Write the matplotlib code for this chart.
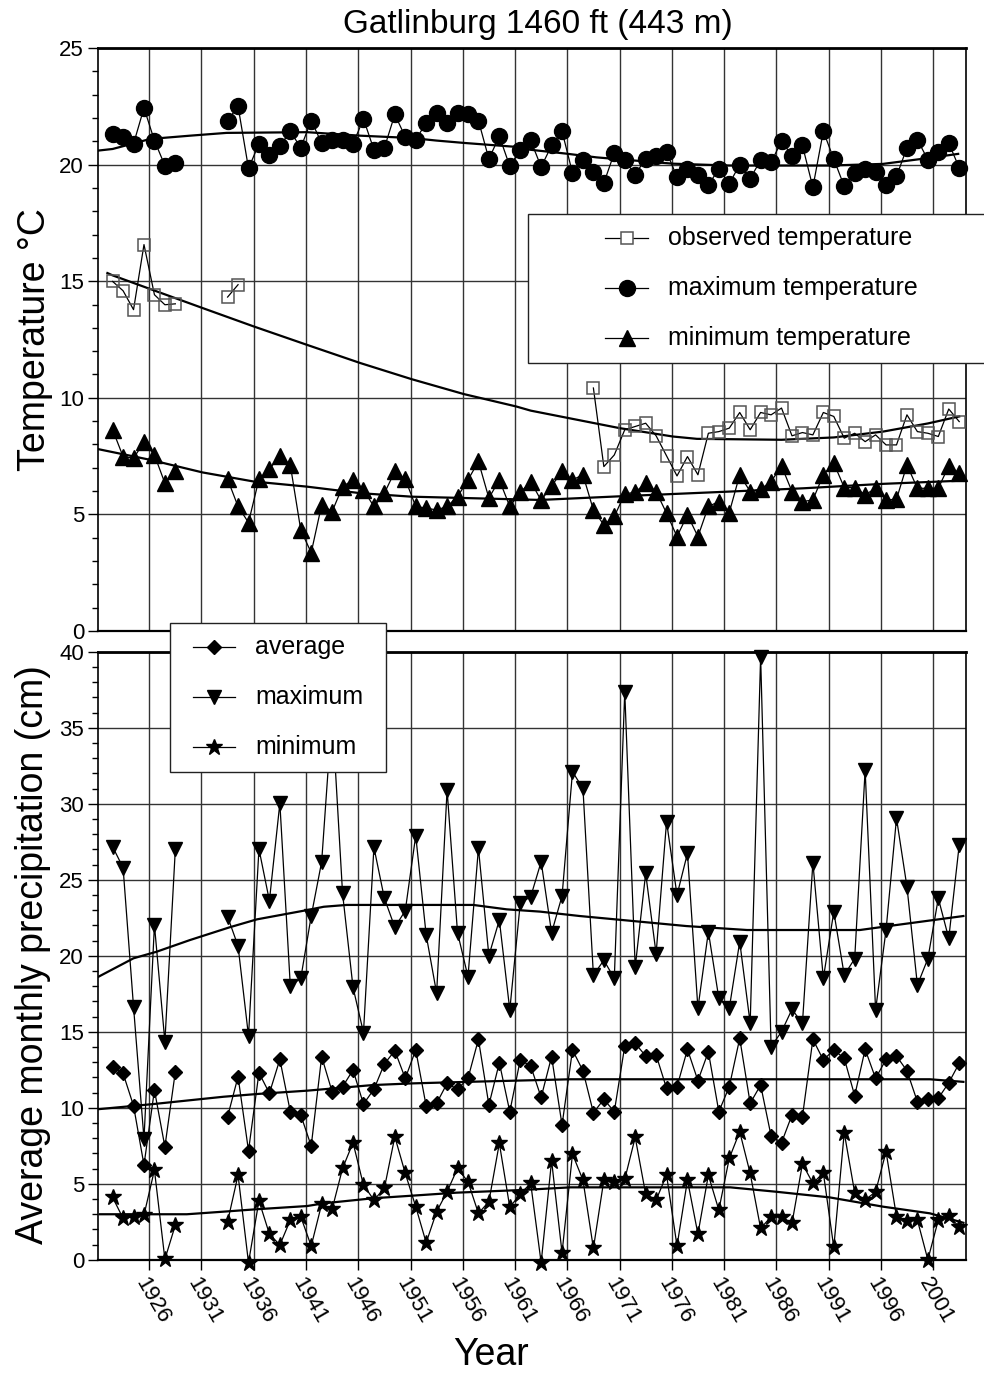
import numpy as np
import matplotlib.pyplot as plt
from matplotlib.lines import Line2D
from matplotlib.patches import Rectangle
from matplotlib.ticker import MultipleLocator

plt.rcParams['font.family'] = ['Liberation Sans', 'DejaVu Sans']

nan = np.nan
years = np.arange(1922, 2004)
gap = [nan] * 4  # 1929-1932 sin datos

# Temperatura (°C)
t_max = [21.33, 21.19, 20.89, 22.43, 21.03, 19.96, 20.09] + gap + [
    21.89, 22.5, 19.84, 20.89, 20.43, 20.79, 21.43, 20.72, 21.89, 20.92,
    21.07, 21.07, 20.89, 21.96, 20.64, 20.72, 22.15, 21.19, 21.07, 21.79,
    22.22, 21.79, 22.22, 22.15, 21.89, 20.24, 21.22, 19.93, 20.64, 21.04,
    19.9, 20.82, 21.43, 19.64, 20.19, 19.67, 19.21, 20.5, 20.19, 19.57,
    20.26, 20.36, 20.54, 19.47, 19.79, 19.57, 19.11, 19.83, 19.18, 20.0,
    19.4, 20.19, 20.1, 21.0, 20.39, 20.82, 19.03, 21.43, 20.24, 19.07,
    19.64, 19.81, 19.67, 19.14, 19.5, 20.72, 21.07, 20.21, 20.54, 20.93,
    19.86]
t_obs = [14.99, 14.59, 13.78, 16.57, 14.42, 13.99, 14.03] + gap + [14.32, 14.85] + [nan] * 33 + [
    10.42, 7.05, 7.55, 8.63, 8.77, 8.91, 8.37, 7.51, 6.65, 7.48,
    6.7, 8.48, 8.55, 8.7, 9.37, 8.63, 9.37, 9.27, 9.56, 8.37,
    8.51, 8.41, 9.37, 9.2, 8.27, 8.48, 8.12, 8.41, 7.98, 7.98,
    9.27, 8.55, 8.48, 8.34, 9.52, 8.98]
t_min = [8.63, 7.48, 7.41, 8.1, 7.55, 6.34, 6.84] + gap + [
    6.51, 5.34, 4.65, 6.51, 6.94, 7.51, 7.12, 4.33, 3.36, 5.41,
    5.12, 6.19, 6.48, 6.05, 5.34, 5.91, 6.84, 6.51, 5.34, 5.27,
    5.19, 5.34, 5.76, 6.48, 7.27, 5.7, 6.48, 5.34, 5.94, 6.41,
    5.6, 6.22, 6.84, 6.48, 6.7, 5.19, 4.55, 4.91, 5.88, 5.95,
    6.34, 5.98, 5.05, 4.05, 4.98, 4.05, 5.34, 5.55, 5.08, 6.7,
    5.98, 6.08, 6.41, 7.08, 5.98, 5.55, 5.62, 6.7, 7.2, 6.15,
    6.15, 5.84, 6.12, 5.62, 5.65, 7.12, 6.12, 6.12, 6.12, 7.08,
    6.77]

# Precipitacion mensual (cm)
p_avg = [12.7, 12.26, 10.13, 6.23, 11.16, 7.43, 12.37] + gap + [
    9.41, 12.04, 7.17, 12.3, 10.95, 13.18, 9.74, 9.52, 7.48, 13.36,
    11.05, 11.38, 12.48, 10.24, 11.21, 12.88, 13.75, 11.93, 13.8, 10.11,
    10.29, 11.6, 11.21, 11.93, 14.5, 10.18, 12.96, 9.74, 13.14, 12.74,
    10.68, 13.36, 8.86, 13.8, 12.43, 9.67, 10.55, 9.74, 14.06, 14.24,
    13.4, 13.47, 11.27, 11.38, 13.84, 11.78, 13.68, 9.74, 11.38, 14.56,
    10.29, 11.49, 8.14, 7.7, 9.52, 9.41, 14.5, 13.14, 13.8, 13.25,
    10.79, 13.84, 11.93, 13.18, 13.4, 12.43, 10.39, 10.55, 10.62, 11.64,
    12.92]
p_max = [27.17, 25.79, 16.64, 7.94, 22.02, 14.34, 27.02] + gap + [
    22.57, 20.64, 14.72, 27.02, 23.62, 30.03, 18.01, 18.51, 22.61, 26.18,
    36.0, 24.1, 17.92, 14.94, 27.13, 23.78, 21.87, 22.96, 27.9, 21.36,
    17.53, 30.9, 21.51, 18.62, 27.07, 20.0, 22.35, 16.43, 23.45, 23.88,
    26.18, 21.51, 23.93, 32.1, 31.01, 18.73, 19.7, 18.51, 37.37, 19.24,
    25.42, 20.13, 28.82, 23.99, 26.74, 16.54, 21.58, 17.2, 16.54, 20.92,
    15.55, 39.67, 14.01, 15.0, 16.47, 15.55, 26.12, 18.51, 22.89, 18.73,
    19.8, 32.22, 16.43, 21.69, 29.04, 24.54, 18.07, 19.8, 23.78, 21.14,
    27.28]
p_min = [4.1, 2.72, 2.83, 2.94, 5.9, 0.03, 2.28] + gap + [
    2.5, 5.57, -0.2, 3.88, 1.69, 0.97, 2.61, 2.83, 0.9, 3.66,
    3.32, 6.01, 7.7, 4.91, 3.93, 4.7, 8.09, 5.68, 3.49, 1.12,
    3.16, 4.47, 6.01, 5.13, 3.05, 3.82, 7.66, 3.45, 4.32, 5.03,
    -0.2, 6.51, 0.46, 6.95, 5.24, 0.75, 5.24, 5.13, 5.29, 8.05,
    4.32, 3.93, 5.57, 0.9, 5.24, 1.69, 5.57, 3.27, 6.67, 8.42,
    5.68, 2.06, 2.83, 2.83, 2.39, 6.3, 5.03, 5.72, 0.81, 8.36,
    4.41, 3.93, 4.47, 7.11, 2.83, 2.57, 2.61, 0.0, 2.61, 2.87,
    2.17]

# Curvas de tendencia (año, valor)
tr_tmax_x = [1920.6, 1922, 1925.6, 1929.4, 1932.9, 1940.6, 1945.7, 1950.6, 1953, 1955.6,
             1960.6, 1961.9, 1965.4, 1968.3, 1971.5, 1975.6, 1981, 1990.6, 1995.7, 2000.2, 2002.9]
tr_tmax_y = [20.6, 20.67, 21.1, 21.24, 21.36, 21.39, 21.24, 21.14, 21.03, 20.93,
             20.76, 20.64, 20.47, 20.31, 20.19, 20.04, 19.96, 19.96, 20.03, 20.29, 20.46]
tr_tobs_x = [1921.5, 1922, 1930.6, 1935.5, 1940.6, 1945.7, 1950.6, 1955.6, 1960.6, 1962,
             1970.5, 1975.6, 1977.9, 1986, 1991, 1995.7, 2000, 2003]
tr_tobs_y = [15.35, 15.25, 13.85, 13.06, 12.27, 11.49, 10.8, 10.16, 9.63, 9.45,
             8.7, 8.34, 8.24, 8.2, 8.3, 8.55, 8.9, 9.2]
tr_tmin_x = [1920.6, 1925.6, 1930.6, 1935.5, 1940.6, 1945.7, 1950.6, 1962.9, 1971.2, 1981.1,
             1988.1, 1995.7, 2003.4]
tr_tmin_y = [7.8, 7.34, 6.8, 6.41, 6.19, 5.91, 5.76, 5.62, 5.79, 5.98, 6.12, 6.31, 6.45]

tr_pavg_x = [1920.6, 1925.9, 1932.6, 1935.8, 1940.6, 1946.9, 1950.7, 1956.5, 1962.9, 1965.8,
             2000.2, 2003.4]
tr_pavg_y = [9.9, 10.24, 10.72, 10.9, 11.12, 11.49, 11.6, 11.71, 11.82, 11.87, 11.87, 11.7]
tr_pmax_x = [1920.6, 1924, 1926.2, 1929.4, 1933.2, 1935.8, 1940.6, 1942.2, 1944.4, 1956.5,
             1959.7, 1962.9, 1966.7, 1971.5, 1976.9, 1982.7, 1993.5, 1997, 2003.4]
tr_pmax_y = [18.6, 19.83, 20.26, 21.03, 21.87, 22.39, 23.0, 23.22, 23.34, 23.34,
             23.05, 22.9, 22.61, 22.3, 21.95, 21.69, 21.69, 22.02, 22.61]
tr_pmin_x = [1920.8, 1929.1, 1932.6, 1935.8, 1940.6, 1942.2, 1946.9, 1951.7, 1954.9, 1961.3,
             1965.8, 1981.1, 1985.5, 1990.6, 1995.7, 2000.2, 2003.4]
tr_pmin_y = [2.99, 2.99, 3.16, 3.32, 3.53, 3.71, 4.04, 4.26, 4.41, 4.59,
             4.76, 4.76, 4.47, 4.1, 3.49, 3.05, 2.43]

tick_years = np.arange(1925.5, 2001, 5)
tick_labels = [str(int(t + 0.5)) for t in tick_years]

# ---------------------------------------------------------------
W, H = 984, 1374
fig = plt.figure(figsize=(W / 100, H / 100), dpi=100)


def fx(px):
    return px / W


def fy(py):
    return 1 - py / H


ax1 = fig.add_axes([fx(98), fy(631), (966 - 98) / W, (631 - 48) / H])
ax2 = fig.add_axes([fx(98), fy(1259.7), (966 - 98) / W, (1259.7 - 651.7) / H])

line_kw = dict(color='black', lw=0.9, clip_on=False, zorder=3)
trend_kw = dict(color='black', lw=1.6, zorder=2)

# panel superior
ax1.plot(tr_tmax_x, tr_tmax_y, **trend_kw)
ax1.plot(tr_tobs_x, tr_tobs_y, **trend_kw)
ax1.plot(tr_tmin_x, tr_tmin_y, **trend_kw)
ax1.plot(years, t_obs, marker='s', ms=9, mfc='none', mec='#555555', mew=1.1, **line_kw)
ax1.plot(years, t_max, marker='o', ms=11.5, mfc='black', mec='black', **line_kw)
ax1.plot(years, t_min, marker='^', ms=11, mfc='black', mec='black', **line_kw)

# panel inferior
ax2.plot(tr_pavg_x, tr_pavg_y, **trend_kw)
ax2.plot(tr_pmax_x, tr_pmax_y, **trend_kw)
ax2.plot(tr_pmin_x, tr_pmin_y, **trend_kw)
ax2.plot(years, p_avg, marker='D', ms=7, mfc='black', mec='black', **line_kw)
ax2.plot(years, p_max, marker='v', ms=10.5, mfc='black', mec='black', **line_kw)
ax2.plot(years, p_min, marker='*', ms=12, mfc='black', mec='black', **line_kw)

for ax, top, step in [(ax1, 25, 5), (ax2, 40, 5)]:
    ax.set_xlim(1920.6, 2003.65)
    ax.set_ylim(0, top)
    ax.yaxis.set_major_locator(MultipleLocator(step))
    ax.yaxis.set_minor_locator(MultipleLocator(1))
    ax.set_xticks(tick_years)
    ax.grid(True, which='major', color='#333333', lw=1.0, zorder=0)
    ax.set_axisbelow(True)
    ax.tick_params(axis='y', which='major', direction='out', length=7, width=1,
                   labelsize=16, pad=3)
    ax.tick_params(axis='y', which='minor', direction='out', length=4, width=1)
    ax.spines['top'].set_linewidth(2.0)
    ax.spines['bottom'].set_linewidth(1.6)
    ax.spines['left'].set_linewidth(1.2)
    ax.spines['right'].set_linewidth(1.2)

ax1.tick_params(axis='x', length=0, labelbottom=False)
ax2.tick_params(axis='x', direction='out', length=7, width=1, pad=3)
ax2.set_xticklabels(tick_labels, rotation=-60, ha='left', va='top',
                    rotation_mode='anchor', fontsize=16)

# textos
fig.text(fx(538), fy(24), 'Gatlinburg 1460 ft (443 m)', fontsize=24, ha='center', va='center')
fig.text(fx(35), fy(340), 'Temperature °C', fontsize=27, rotation=90, ha='center', va='center')
fig.text(fx(33), fy(955), 'Average monthly precipitation (cm)', fontsize=27,
         rotation=90, ha='center', va='center')
fig.text(fx(491), fy(1355), 'Year', fontsize=27, ha='center', va='center')


# leyendas dibujadas a mano
def legend_box(x0, y0, x1, y1, lx0, lx1, tx, rows):
    fig.add_artist(Rectangle((fx(x0), fy(y1)), (x1 - x0) / W, (y1 - y0) / H,
                             transform=fig.transFigure, facecolor='white',
                             edgecolor='#222222', lw=1.0, zorder=5))
    for py, label, mk in rows:
        fig.add_artist(Line2D([fx(lx0), fx(lx1)], [fy(py), fy(py)], transform=fig.transFigure,
                              color='black', lw=0.9, zorder=6))
        fig.add_artist(Line2D([fx((lx0 + lx1) / 2)], [fy(py)], transform=fig.transFigure,
                              lw=0, zorder=6, **mk))
        fig.text(fx(tx), fy(py), label, fontsize=18, ha='left', va='center', zorder=7)


legend_box(528, 214, 1000, 363, 605, 648, 668, [
    (238, 'observed temperature', dict(marker='s', ms=9, mfc='white', mec='#555555', mew=1.1)),
    (288, 'maximum temperature', dict(marker='o', ms=11.5, mfc='black', mec='black')),
    (338, 'minimum temperature', dict(marker='^', ms=11, mfc='black', mec='black')),
])
legend_box(170, 623, 386, 772, 193, 235, 255, [
    (647, 'average', dict(marker='D', ms=7, mfc='black', mec='black')),
    (697, 'maximum', dict(marker='v', ms=10.5, mfc='black', mec='black')),
    (747, 'minimum', dict(marker='*', ms=12, mfc='black', mec='black')),
])

fig.savefig('out.png', dpi=100)
